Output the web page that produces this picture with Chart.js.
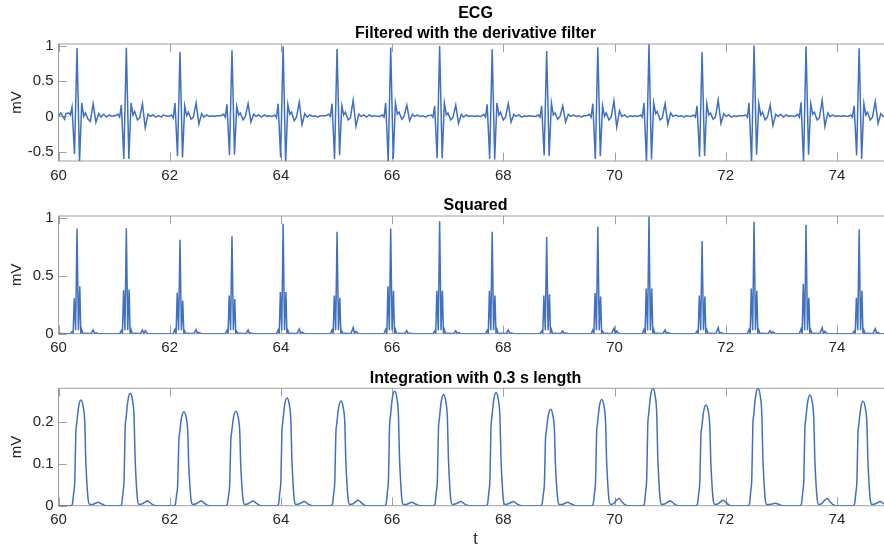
<!DOCTYPE html>
<html>
<head>
<meta charset="utf-8">
<script src="https://cdn.jsdelivr.net/npm/chart.js@4.4.0/dist/chart.umd.min.js"></script>
<style>
html, body { margin: 0; padding: 0; background: #fff; overflow: hidden; width: 884px; height: 547px; }
canvas { position: absolute; left: 0; }
</style>
</head>
<body>
<canvas id="c1" width="893" height="185" style="top:0px"></canvas>
<canvas id="c2" width="893" height="180" style="top:185px"></canvas>
<canvas id="c3" width="893" height="185" style="top:365px"></canvas>
<script>
// R-peak times (s)
const beatTimes = [60.333, 61.22, 62.185, 63.12, 64.04, 65.01, 65.975, 66.855, 67.80, 68.78, 69.70, 70.62, 71.575, 72.51, 73.445, 74.40]

const xTicks = [60, 62, 64, 66, 68, 70, 72, 74]
const yTicks1 = [-0.5, 0, 0.5, 1]
const yTicks2 = [0, 0.5, 1]
const yTicks3 = [0, 0.1, 0.2]

// --- derivative filter: sample offsets around each R peak and values per beat
const filtLeadT = [60.0, 60.04, 60.07, 60.11]
const filtLeadV = [0.0, 0.05, 0.01, -0.04]
const filtOffsets = [-0.20, -0.15, -0.12, -0.09, -0.045, 0, 0.045, 0.085, 0.12, 0.15, 0.20, 0.24, 0.29, 0.34, 0.39, 0.43, 0.48, 0.53, 0.58, 0.63, 0.66]
const filtRows = [
    [0.04, 0.05, 0.02, 0.13, -0.53, 0.967, -0.65, 0.19, 0.0, 0.05, -0.04, -0.07, 0.18, -0.085, 0.04, -0.01, 0.03, -0.01, 0.02, 0.0, 0.01],
    [0.01, 0.03, -0.01, 0.16, -0.60, 0.97, -0.60, 0.19, 0.02, 0.07, -0.05, -0.02, 0.18, -0.16, 0.03, 0.0, 0.02, -0.01, 0.01, -0.01, 0.02],
    [0.0, 0.02, -0.02, 0.19, -0.56, 0.915, -0.58, 0.15, 0.01, 0.06, -0.04, -0.01, 0.19, -0.11, 0.04, -0.01, 0.02, 0.0, 0.01, 0.0, 0.01],
    [0.01, 0.03, -0.01, 0.17, -0.55, 0.935, -0.54, 0.14, 0.02, 0.05, -0.05, 0.0, 0.18, -0.08, 0.03, 0.0, 0.02, -0.01, 0.02, 0.0, 0.01],
    [0.0, 0.02, -0.02, 0.18, -0.58, 0.99, -0.65, 0.17, 0.03, 0.06, -0.06, -0.01, 0.20, -0.12, 0.04, -0.01, 0.02, 0.0, 0.01, -0.01, 0.01],
    [0.01, 0.03, 0.0, 0.18, -0.60, 0.953, -0.55, 0.15, 0.02, 0.06, -0.05, -0.02, 0.23, -0.14, 0.03, 0.0, 0.02, -0.01, 0.02, 0.0, 0.01],
    [0.0, 0.02, -0.01, 0.19, -0.64, 0.972, -0.60, 0.19, 0.03, 0.06, -0.04, 0.0, 0.16, -0.06, 0.03, 0.0, 0.02, 0.0, 0.01, -0.01, 0.01],
    [0.01, 0.02, -0.01, 0.15, -0.59, 0.995, -0.59, 0.19, 0.02, 0.05, -0.05, -0.01, 0.16, -0.10, 0.03, -0.01, 0.02, 0.0, 0.01, 0.0, 0.01],
    [0.0, 0.03, -0.01, 0.17, -0.60, 0.949, -0.61, 0.19, 0.02, 0.06, -0.05, -0.01, 0.18, -0.08, 0.03, 0.0, 0.02, -0.01, 0.01, 0.0, 0.01],
    [0.0, 0.02, -0.01, 0.15, -0.55, 0.925, -0.56, 0.19, 0.02, 0.05, -0.04, 0.0, 0.15, -0.08, 0.03, 0.0, 0.02, 0.0, 0.01, -0.01, 0.01],
    [0.01, 0.03, -0.01, 0.18, -0.60, 0.977, -0.56, 0.15, 0.0, 0.05, -0.05, -0.01, 0.22, -0.15, 0.08, 0.0, 0.02, -0.01, 0.01, 0.0, 0.01],
    [0.0, 0.02, -0.01, 0.19, -0.65, 1.02, -0.61, 0.19, 0.04, 0.07, -0.05, -0.02, 0.18, -0.11, 0.05, 0.0, 0.02, 0.0, 0.01, -0.01, 0.01],
    [0.0, 0.02, -0.01, 0.15, -0.57, 0.907, -0.56, 0.18, 0.02, 0.05, -0.04, -0.01, 0.23, -0.10, 0.04, 0.0, 0.02, -0.01, 0.01, 0.0, 0.01],
    [0.01, 0.02, -0.01, 0.19, -0.65, 1.0, -0.54, 0.18, 0.02, 0.06, -0.05, -0.01, 0.16, -0.13, 0.03, 0.0, 0.03, -0.01, 0.02, 0.0, 0.01],
    [0.0, 0.03, -0.01, 0.20, -0.65, 0.986, -0.54, 0.18, 0.03, 0.06, -0.05, -0.02, 0.23, -0.14, 0.05, 0.0, 0.02, 0.0, 0.01, 0.0, 0.01],
    [0.0, 0.02, -0.01, 0.15, -0.55, 0.963, -0.60, 0.18, 0.02, 0.06, -0.05, -0.01, 0.21, -0.10, 0.04, 0.0, 0.02, 0.0, 0.01, 0.0, 0.01]
]

// --- squared
const sqLeadT = [60.0, 60.04, 60.07, 60.11]
const sqLeadV = [0.0, 0.002, 0.0, 0.002]
const sqOffsets = [-0.20, -0.12, -0.09, -0.07, -0.05, -0.025, 0, 0.025, 0.05, 0.068, 0.085, 0.105, 0.15, 0.20, 0.25, 0.29, 0.315, 0.34, 0.38, 0.43, 0.66]
const sqRows = [
    [0, 0.001, 0.017, 0.002, 0.305, 0.03, 0.908, 0.03, 0.41, 0.004, 0.036, 0.002, 0.003, 0.002, 0.001, 0.032, 0.002, 0.007, 0.002, 0, 0],
    [0, 0.001, 0.026, 0.002, 0.374, 0.03, 0.91, 0.03, 0.38, 0.004, 0.036, 0.002, 0.003, 0.002, 0.001, 0.032, 0.002, 0.026, 0.002, 0, 0],
    [0, 0.001, 0.036, 0.002, 0.353, 0.03, 0.81, 0.03, 0.285, 0.004, 0.023, 0.002, 0.003, 0.002, 0.001, 0.036, 0.002, 0.012, 0.002, 0, 0],
    [0, 0.001, 0.029, 0.002, 0.33, 0.03, 0.84, 0.03, 0.30, 0.004, 0.020, 0.002, 0.003, 0.002, 0.001, 0.032, 0.002, 0.006, 0.002, 0, 0],
    [0, 0.001, 0.032, 0.002, 0.36, 0.03, 0.948, 0.03, 0.36, 0.004, 0.029, 0.002, 0.003, 0.002, 0.001, 0.040, 0.002, 0.014, 0.002, 0, 0],
    [0, 0.001, 0.032, 0.002, 0.33, 0.03, 0.879, 0.03, 0.31, 0.004, 0.023, 0.002, 0.003, 0.002, 0.001, 0.053, 0.002, 0.020, 0.002, 0, 0],
    [0, 0.001, 0.036, 0.002, 0.41, 0.03, 0.908, 0.03, 0.37, 0.004, 0.036, 0.002, 0.003, 0.002, 0.001, 0.026, 0.002, 0.004, 0.002, 0, 0],
    [0, 0.001, 0.023, 0.002, 0.37, 0.03, 0.97, 0.03, 0.37, 0.004, 0.036, 0.002, 0.003, 0.002, 0.001, 0.026, 0.002, 0.010, 0.002, 0, 0],
    [0, 0.001, 0.029, 0.002, 0.37, 0.03, 0.88, 0.03, 0.33, 0.004, 0.036, 0.002, 0.003, 0.002, 0.001, 0.032, 0.002, 0.006, 0.002, 0, 0],
    [0, 0.001, 0.023, 0.002, 0.33, 0.03, 0.833, 0.03, 0.34, 0.004, 0.036, 0.002, 0.003, 0.002, 0.001, 0.023, 0.002, 0.006, 0.002, 0, 0],
    [0, 0.001, 0.032, 0.002, 0.35, 0.03, 0.925, 0.03, 0.32, 0.004, 0.023, 0.002, 0.003, 0.002, 0.001, 0.048, 0.002, 0.023, 0.002, 0, 0],
    [0, 0.001, 0.036, 0.002, 0.39, 0.03, 1.01, 0.03, 0.39, 0.004, 0.036, 0.002, 0.003, 0.002, 0.001, 0.032, 0.002, 0.012, 0.002, 0, 0],
    [0, 0.001, 0.023, 0.002, 0.33, 0.03, 0.80, 0.03, 0.32, 0.004, 0.032, 0.002, 0.003, 0.002, 0.001, 0.053, 0.002, 0.010, 0.002, 0, 0],
    [0, 0.001, 0.036, 0.002, 0.39, 0.03, 0.965, 0.03, 0.37, 0.004, 0.032, 0.002, 0.003, 0.002, 0.001, 0.026, 0.002, 0.017, 0.002, 0, 0],
    [0, 0.001, 0.040, 0.002, 0.43, 0.03, 0.94, 0.03, 0.31, 0.004, 0.032, 0.002, 0.003, 0.002, 0.001, 0.053, 0.002, 0.020, 0.002, 0, 0],
    [0, 0.001, 0.023, 0.002, 0.31, 0.03, 0.90, 0.03, 0.37, 0.004, 0.032, 0.002, 0.003, 0.002, 0.001, 0.044, 0.002, 0.010, 0.002, 0, 0]
]

// --- moving-window integration (0.3 s)
const intLeadT = [60.0]
const intLeadV = [0.0]
const intOffsets = [-0.11, -0.085, -0.06, -0.04, -0.022, -0.005, 0.03, 0.07, 0.11, 0.14, 0.157, 0.175, 0.20, 0.23, 0.28, 0.33, 0.38, 0.43, 0.48, 0.53]
const intRows = [
    [0, 0.003, 0.030, 0.060, 0.171, 0.197, 0.237, 0.252, 0.237, 0.197, 0.111, 0.060, 0.015, 0.003, 0.003, 0.006, 0.008, 0.005, 0.002, 0],
    [0, 0.003, 0.032, 0.064, 0.182, 0.209, 0.252, 0.268, 0.252, 0.209, 0.118, 0.064, 0.016, 0.003, 0.004, 0.008, 0.012, 0.007, 0.002, 0],
    [0, 0.003, 0.027, 0.054, 0.152, 0.175, 0.211, 0.224, 0.211, 0.175, 0.099, 0.054, 0.013, 0.003, 0.004, 0.008, 0.011, 0.007, 0.002, 0],
    [0, 0.003, 0.027, 0.054, 0.153, 0.176, 0.212, 0.225, 0.212, 0.176, 0.099, 0.054, 0.014, 0.003, 0.004, 0.008, 0.011, 0.007, 0.002, 0],
    [0, 0.003, 0.031, 0.062, 0.175, 0.200, 0.242, 0.257, 0.242, 0.200, 0.113, 0.062, 0.015, 0.003, 0.004, 0.007, 0.010, 0.006, 0.002, 0],
    [0, 0.003, 0.030, 0.060, 0.170, 0.195, 0.235, 0.250, 0.235, 0.195, 0.110, 0.060, 0.015, 0.003, 0.004, 0.009, 0.013, 0.008, 0.002, 0],
    [0, 0.003, 0.033, 0.066, 0.186, 0.213, 0.257, 0.273, 0.257, 0.213, 0.120, 0.066, 0.016, 0.003, 0.003, 0.006, 0.008, 0.005, 0.002, 0],
    [0, 0.003, 0.032, 0.064, 0.180, 0.207, 0.249, 0.265, 0.249, 0.207, 0.117, 0.064, 0.016, 0.003, 0.004, 0.007, 0.010, 0.006, 0.002, 0],
    [0, 0.003, 0.032, 0.065, 0.184, 0.211, 0.254, 0.270, 0.254, 0.211, 0.119, 0.065, 0.016, 0.003, 0.004, 0.007, 0.010, 0.006, 0.002, 0],
    [0, 0.003, 0.028, 0.055, 0.156, 0.179, 0.216, 0.230, 0.216, 0.179, 0.101, 0.055, 0.014, 0.003, 0.003, 0.006, 0.008, 0.005, 0.002, 0],
    [0, 0.003, 0.030, 0.061, 0.172, 0.197, 0.238, 0.253, 0.238, 0.197, 0.111, 0.061, 0.015, 0.003, 0.005, 0.012, 0.017, 0.010, 0.003, 0],
    [0, 0.003, 0.034, 0.067, 0.190, 0.218, 0.263, 0.280, 0.263, 0.218, 0.123, 0.067, 0.017, 0.003, 0.004, 0.008, 0.012, 0.007, 0.002, 0],
    [0, 0.003, 0.029, 0.058, 0.163, 0.187, 0.226, 0.240, 0.226, 0.187, 0.106, 0.058, 0.014, 0.003, 0.004, 0.009, 0.013, 0.008, 0.002, 0],
    [0, 0.003, 0.034, 0.067, 0.190, 0.218, 0.263, 0.280, 0.263, 0.218, 0.123, 0.067, 0.017, 0.003, 0.003, 0.004, 0.006, 0.004, 0.001, 0],
    [0, 0.003, 0.032, 0.063, 0.180, 0.206, 0.248, 0.264, 0.248, 0.206, 0.116, 0.063, 0.016, 0.003, 0.005, 0.012, 0.017, 0.010, 0.003, 0],
    [0, 0.003, 0.030, 0.060, 0.169, 0.194, 0.234, 0.249, 0.234, 0.194, 0.110, 0.060, 0.015, 0.003, 0.004, 0.007, 0.010, 0.006, 0.002, 0]
]
const intTailT = [75.0]
const intTailV = [0.0]

const lineColor = '#4070c0'
const axisColor = '#a0a0a0'
const textColor = '#262626'
const fontFamily = "'Liberation Sans', Arial, Helvetica, sans-serif"

Chart.defaults.font.family = fontFamily
Chart.defaults.color = textColor

function buildPoints(leadT, leadV, offsets, rows, tailT=[], tailV=[]) {
    let pts = leadT.map((t, i) => ({x: t, y: leadV[i]}))
    beatTimes.forEach((bt, b) => {
        offsets.forEach((o, i) => {
            pts.push({x: +(bt + o).toFixed(3), y: rows[b][i]})
        })
    })
    tailT.forEach((t, i) => pts.push({x: t, y: tailV[i]}))
    return pts
}

// box around the axes with inward ticks, like the original figure
const framePlugin = {
    id: 'frame',
    beforeDatasetsDraw(chart) {
        const {ctx, chartArea: a, scales} = chart
        const len = 8.3
        ctx.save()
        ctx.strokeStyle = axisColor
        ctx.lineWidth = 1
        ctx.strokeRect(a.left, a.top, a.right - a.left, a.bottom - a.top)
        ctx.beginPath()
        scales.x.ticks.forEach(t => {
            const px = Math.round(scales.x.getPixelForValue(t.value)) + 0.5
            ctx.moveTo(px, a.bottom); ctx.lineTo(px, a.bottom - len)
            ctx.moveTo(px, a.top); ctx.lineTo(px, a.top + len)
        })
        scales.y.ticks.forEach(t => {
            const py = Math.round(scales.y.getPixelForValue(t.value)) + 0.5
            ctx.moveTo(a.left, py); ctx.lineTo(a.left + len, py)
            ctx.moveTo(a.right, py); ctx.lineTo(a.right - len, py)
        })
        ctx.stroke()
        ctx.restore()
    }
}

function makeChart(id, points, cfg) {
    const ctx = document.getElementById(id)
    new Chart(ctx, {
        type: 'line',
        data: {
            datasets: [{
                data: points,
                borderColor: lineColor,
                borderWidth: 1.5,
                pointRadius: 0,
                tension: cfg.smooth ? 0.4 : 0,
                cubicInterpolationMode: cfg.smooth ? 'monotone' : 'default',
                fill: false
            }]
        },
        options: {
            responsive: false,
            animation: false,
            devicePixelRatio: 1,
            parsing: false,
            layout: {padding: {left: 0, right: 0.5, top: 0, bottom: 0}},
            plugins: {
                legend: {display: false},
                tooltip: {enabled: false},
                title: {
                    display: true,
                    text: cfg.title,
                    fullSize: false,
                    color: '#000',
                    font: {size: 16, weight: 'bold', lineHeight: 1.25},
                    padding: cfg.titlePad
                }
            },
            scales: {
                x: {
                    type: 'linear',
                    min: 60,
                    max: 75,
                    grid: {display: false, drawTicks: false},
                    border: {display: false},
                    afterBuildTicks: s => { s.ticks = xTicks.map(v => ({value: v})) },
                    afterFit: s => { s.height = cfg.xHeight },
                    ticks: {
                        padding: 5.6,
                        autoSkip: false,
                        maxRotation: 0,
                        color: textColor,
                        font: {size: 15},
                        callback: v => String(v)
                    },
                    title: {
                        display: cfg.xTitle !== '',
                        text: cfg.xTitle,
                        color: textColor,
                        font: {size: 16},
                        padding: {top: 0, bottom: 0.4}
                    }
                },
                y: {
                    type: 'linear',
                    min: cfg.yMin,
                    max: cfg.yMax,
                    grid: {display: false, drawTicks: false},
                    border: {display: false},
                    afterBuildTicks: s => { s.ticks = cfg.yTicks.map(v => ({value: v})) },
                    afterFit: s => { s.width = 58.5 },
                    ticks: {
                        padding: 5,
                        color: textColor,
                        font: {size: 15},
                        callback: v => String(v)
                    },
                    title: {
                        display: true,
                        text: 'mV',
                        color: textColor,
                        font: {size: 15},
                        padding: {top: 8, bottom: 0}
                    }
                }
            }
        },
        plugins: [framePlugin]
    })
}

makeChart('c1', buildPoints(filtLeadT, filtLeadV, filtOffsets, filtRows), {
    title: ['ECG', 'Filtered with the derivative filter'],
    titlePad: {top: 3.3, bottom: 0.7},
    yMin: -0.63, yMax: 1.023, yTicks: yTicks1,
    xHeight: 24, xTitle: ''
})

makeChart('c2', buildPoints(sqLeadT, sqLeadV, sqOffsets, sqRows), {
    title: 'Squared',
    titlePad: {top: 10.7, bottom: 0.3},
    yMin: 0, yMax: 1.015, yTicks: yTicks2,
    xHeight: 31.3, xTitle: ''
})

makeChart('c3', buildPoints(intLeadT, intLeadV, intOffsets, intRows, intTailT, intTailV), {
    title: 'Integration with 0.3 s length',
    titlePad: {top: 3.3, bottom: 0},
    yMin: 0, yMax: 0.28, yTicks: yTicks3,
    xHeight: 44.3, xTitle: 't', smooth: true
})
</script>
</body>
</html>
